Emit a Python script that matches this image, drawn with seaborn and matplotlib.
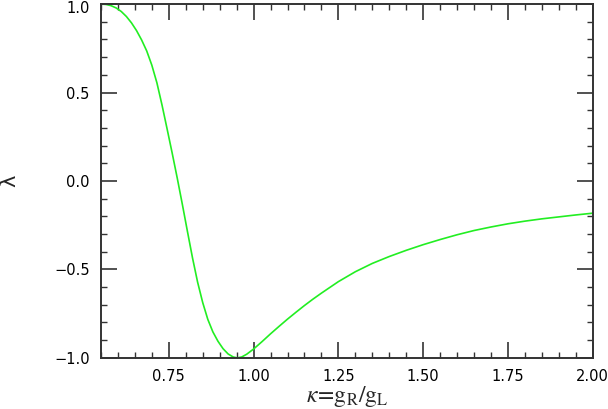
import numpy as np
import pandas as pd
import matplotlib
matplotlib.use("Agg")
import matplotlib.pyplot as plt
from matplotlib.ticker import MultipleLocator
from matplotlib.transforms import ScaledTranslation
import seaborn as sns

# values
kappa = [0.550, 0.565, 0.580, 0.595, 0.610, 0.625, 0.640, 0.655, 0.670, 0.685,
         0.700, 0.715, 0.730, 0.745, 0.760, 0.775, 0.790, 0.805, 0.820, 0.835,
         0.850, 0.865, 0.880, 0.895, 0.910, 0.925, 0.940, 0.952, 0.965, 0.980,
         1.000, 1.025, 1.050, 1.075, 1.100, 1.125, 1.150, 1.175, 1.200, 1.250,
         1.300, 1.350, 1.400, 1.450, 1.500, 1.550, 1.600, 1.650, 1.700, 1.750,
         1.800, 1.850, 1.900, 1.950, 2.000]
lam = [1.000, 0.998, 0.991, 0.978, 0.958, 0.930, 0.894, 0.850, 0.797, 0.735,
       0.655, 0.555, 0.430, 0.295, 0.158, 0.016, -0.132, -0.285, -0.435, -0.572,
       -0.687, -0.782, -0.853, -0.906, -0.948, -0.978, -0.995, -1.000, -0.995, -0.979,
       -0.950, -0.908, -0.864, -0.822, -0.781, -0.742, -0.704, -0.668, -0.634, -0.569,
       -0.513, -0.466, -0.427, -0.392, -0.360, -0.331, -0.304, -0.280, -0.260, -0.242,
       -0.227, -0.214, -0.203, -0.192, -0.182]

df = pd.DataFrame({"kappa": kappa, "lam": lam})

sns.set_style("ticks")
plt.rcParams["mathtext.fontset"] = "stix"

fig = plt.figure(figsize=(6.08, 4.09), dpi=100)
ax = fig.add_axes([0.166, 0.125, 0.809, 0.865])

sns.lineplot(data=df, x="kappa", y="lam", sort=False, color="#22ee22", lw=1.2, ax=ax)

ax.set_xlim(0.55, 2.0)
ax.set_ylim(-1.0, 1.0)
ax.xaxis.set_major_locator(MultipleLocator(0.25))
ax.xaxis.set_minor_locator(MultipleLocator(0.05))
ax.yaxis.set_major_locator(MultipleLocator(0.5))
ax.yaxis.set_minor_locator(MultipleLocator(0.1))
ax.set_xticks([0.75, 1.0, 1.25, 1.5, 1.75, 2.0])
ax.set_xticklabels(["0.75", "1.00", "1.25", "1.50", "1.75", "2.00"])
ax.set_yticks([-1.0, -0.5, 0.0, 0.5, 1.0])
ax.set_yticklabels(["\u22121.0", "\u22120.5", "0.0", "0.5", "1.0"])

ax.tick_params(which="both", direction="in", top=True, right=True,
               color="#333333", labelsize=10.5, labelcolor="black")
ax.tick_params(which="major", length=11.5, width=1.2, pad=8)
ax.tick_params(which="minor", length=4.5, width=1.0)
for s in ax.spines.values():
    s.set_linewidth(1.4)
    s.set_color("#333333")

# nudge the top "1.0" label down so it is not clipped
top_lbl = ax.get_yticklabels()[-1]
top_lbl.set_transform(top_lbl.get_transform() + ScaledTranslation(0, -2 / 72, fig.dpi_scale_trans))

ax.set_xlabel(r"$\kappa\!=\!\mathrm{g_R}/\mathrm{g_L}$", fontsize=17, labelpad=0)
ax.set_ylabel("\u03bb", fontsize=15, family="DejaVu Sans")
ax.yaxis.set_label_coords(-0.165, 0.5)

fig.savefig("out.png", dpi=100)
